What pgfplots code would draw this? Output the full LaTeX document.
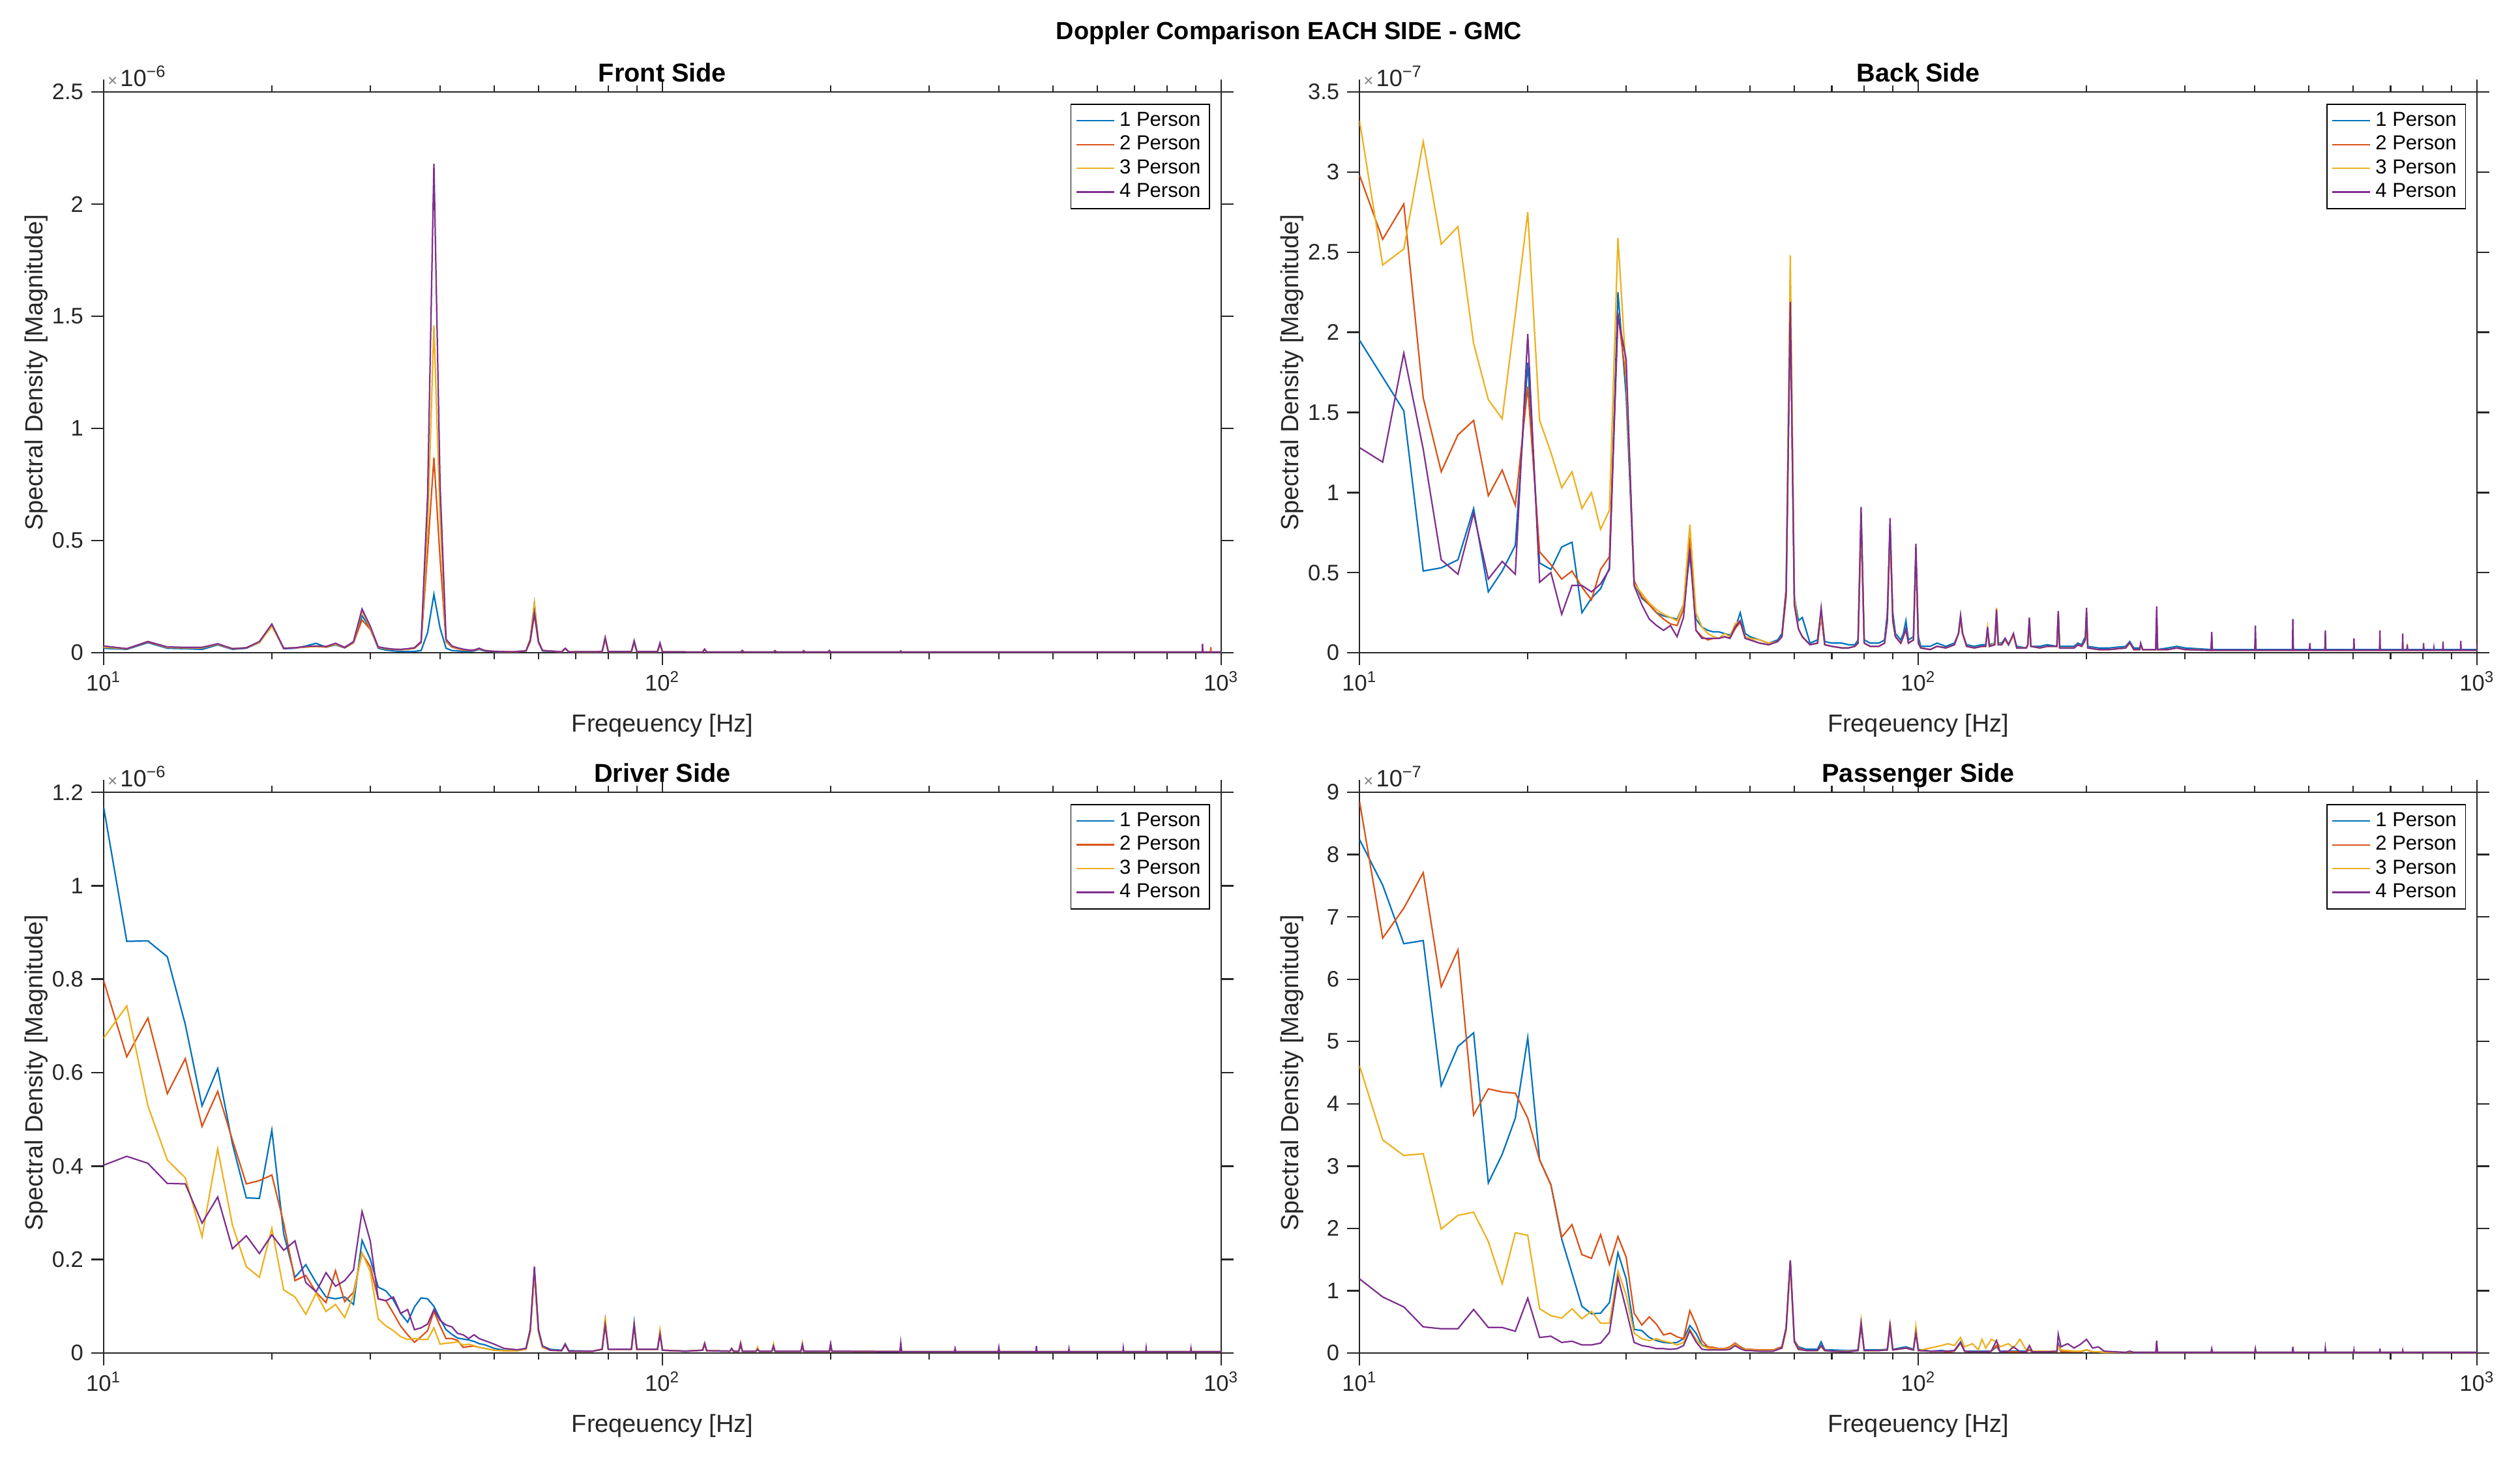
\documentclass[border=0pt]{standalone}
\usepackage{fontspec}
\setmainfont{Liberation Sans}
\usepackage{pgfplots}
\usepackage{pgfplotstable}
\pgfplotsset{compat=1.18}
\definecolor{mblue}{RGB}{0,114,189}
\definecolor{mred}{RGB}{217,83,25}
\definecolor{myellow}{RGB}{237,177,32}
\definecolor{mpurple}{RGB}{126,47,142}
\definecolor{axgray}{RGB}{38,38,38}

\pgfplotstableread{
f a b c d
10 0.020 0.028 0.025 0.030
11 0.015 0.018 0.017 0.018
12 0.045 0.048 0.050 0.050
13 0.020 0.024 0.024 0.026
14 0.018 0.022 0.022 0.024
15 0.015 0.022 0.022 0.024
16 0.035 0.038 0.038 0.040
17 0.015 0.018 0.017 0.018
18 0.020 0.022 0.022 0.022
19 0.045 0.048 0.045 0.050
20 0.125 0.120 0.118 0.128
21 0.018 0.020 0.020 0.020
22 0.020 0.022 0.022 0.022
23 0.030 0.025 0.026 0.028
24 0.042 0.028 0.028 0.030
25 0.025 0.025 0.028 0.028
26 0.035 0.038 0.038 0.042
27 0.022 0.022 0.025 0.024
28 0.045 0.045 0.048 0.050
29 0.165 0.146 0.185 0.195
30 0.110 0.105 0.112 0.118
31 0.020 0.025 0.024 0.026
32 0.012 0.018 0.018 0.020
33 0.008 0.015 0.015 0.016
34 0.006 0.014 0.014 0.015
35 0.005 0.015 0.016 0.018
36 0.006 0.020 0.022 0.022
37 0.010 0.045 0.050 0.050
38 0.090 0.450 0.550 0.700
39 0.260 0.870 1.460 2.180
40 0.110 0.420 0.600 0.750
41 0.020 0.050 0.055 0.060
42 0.010 0.025 0.028 0.030
43 0.008 0.018 0.020 0.022
44 0.006 0.012 0.014 0.016
45 0.005 0.010 0.012 0.012
46 0.008 0.010 0.012 0.012
47 0.015 0.018 0.018 0.020
48 0.008 0.010 0.010 0.010
50 0.005 0.006 0.006 0.006
54 0.004 0.004 0.004 0.004
57 0.008 0.008 0.008 0.008
58 0.060 0.050 0.060 0.055
59 0.220 0.170 0.220 0.180
60 0.050 0.045 0.050 0.050
61 0.008 0.010 0.010 0.010
66 0.004 0.004 0.004 0.004
67 0.018 0.018 0.018 0.020
68 0.004 0.004 0.004 0.004
78 0.005 0.005 0.005 0.005
79 0.060 0.060 0.065 0.068
80 0.005 0.005 0.005 0.005
88 0.005 0.005 0.005 0.005
89 0.045 0.050 0.050 0.053
90 0.005 0.005 0.005 0.005
98 0.005 0.005 0.005 0.005
99 0.040 0.040 0.040 0.043
100 0.004 0.004 0.004 0.004
118 0.003 0.003 0.003 0.003
119 0.015 0.015 0.015 0.016
120 0.003 0.003 0.003 0.003
138 0.003 0.003 0.003 0.003
139 0.008 0.008 0.008 0.010
140 0.003 0.003 0.003 0.003
158 0.003 0.003 0.003 0.003
159 0.008 0.008 0.008 0.009
160 0.003 0.003 0.003 0.003
178 0.003 0.003 0.003 0.003
179 0.008 0.008 0.008 0.009
180 0.003 0.003 0.003 0.003
198 0.003 0.003 0.003 0.003
199 0.008 0.008 0.008 0.010
200 0.003 0.003 0.003 0.003
266 0.003 0.003 0.003 0.003
267 0.006 0.006 0.006 0.008
268 0.003 0.003 0.003 0.003
925 0.003 0.003 0.003 0.003
926 0.003 0.004 0.004 0.040
927 0.003 0.003 0.003 0.003
957 0.003 0.003 0.003 0.003
958 0.003 0.025 0.004 0.003
959 0.003 0.003 0.003 0.003
1000 0.003 0.003 0.003 0.003
}\tfront

\pgfplotstableread{
f a b c d
10 1.95 2.98 3.32 1.28
11 1.72 2.58 2.42 1.19
12 1.51 2.80 2.52 1.87
13 0.51 1.59 3.19 1.27
14 0.53 1.13 2.55 0.58
15 0.58 1.36 2.66 0.49
16 0.90 1.45 1.93 0.87
17 0.38 0.98 1.58 0.46
18 0.51 1.14 1.46 0.57
19 0.67 0.92 2.11 0.49
20 1.81 1.66 2.75 1.99
21 0.56 0.63 1.45 0.44
22 0.52 0.55 1.25 0.50
23 0.66 0.46 1.03 0.24
24 0.69 0.51 1.13 0.42
25 0.25 0.41 0.90 0.42
26 0.34 0.33 1.00 0.38
27 0.40 0.52 0.77 0.43
28 0.53 0.60 0.89 0.52
29 2.25 2.12 2.59 2.10
30 1.60 1.70 1.75 1.83
31 0.44 0.45 0.43 0.42
32 0.34 0.35 0.37 0.30
33 0.30 0.30 0.31 0.21
34 0.25 0.25 0.27 0.17
35 0.23 0.21 0.24 0.14
36 0.22 0.18 0.22 0.17
37 0.21 0.17 0.20 0.10
38 0.30 0.27 0.30 0.22
39 0.61 0.72 0.80 0.65
40 0.21 0.14 0.25 0.14
41 0.16 0.10 0.16 0.09
42 0.14 0.08 0.12 0.09
43 0.13 0.09 0.10 0.09
44 0.13 0.09 0.09 0.09
45 0.12 0.10 0.12 0.10
46 0.11 0.09 0.10 0.09
47 0.15 0.15 0.18 0.16
48 0.25 0.19 0.20 0.20
49 0.12 0.09 0.10 0.09
50 0.10 0.08 0.09 0.08
52 0.08 0.06 0.08 0.06
54 0.06 0.05 0.06 0.05
56 0.08 0.07 0.07 0.07
57 0.12 0.10 0.10 0.10
58 0.40 0.35 0.40 0.38
59 2.18 2.18 2.48 2.19
60 0.35 0.30 0.35 0.30
61 0.20 0.15 0.15 0.15
62 0.22 0.10 0.10 0.10
64 0.06 0.05 0.05 0.05
66 0.08 0.06 0.06 0.06
67 0.26 0.22 0.24 0.28
68 0.07 0.05 0.05 0.05
70 0.06 0.04 0.04 0.04
73 0.06 0.03 0.03 0.03
75 0.05 0.03 0.03 0.03
77 0.05 0.04 0.04 0.04
78 0.08 0.06 0.06 0.06
79 0.85 0.80 0.85 0.91
80 0.08 0.06 0.06 0.06
82 0.06 0.04 0.04 0.04
85 0.06 0.04 0.04 0.04
87 0.08 0.06 0.06 0.06
88 0.25 0.20 0.20 0.20
89 0.80 0.75 0.78 0.84
90 0.25 0.20 0.20 0.20
91 0.12 0.10 0.10 0.10
93 0.08 0.06 0.06 0.06
94 0.12 0.10 0.10 0.10
95 0.20 0.14 0.15 0.15
96 0.08 0.06 0.06 0.06
98 0.10 0.08 0.08 0.08
99 0.60 0.62 0.63 0.68
100 0.10 0.06 0.06 0.06
101 0.04 0.03 0.03 0.03
105 0.04 0.02 0.02 0.02
108 0.06 0.04 0.04 0.04
112 0.04 0.03 0.03 0.03
116 0.06 0.05 0.05 0.05
118 0.12 0.12 0.12 0.12
119 0.23 0.21 0.22 0.23
120 0.12 0.12 0.12 0.12
122 0.05 0.04 0.04 0.04
126 0.04 0.03 0.03 0.03
130 0.05 0.04 0.04 0.04
132 0.05 0.04 0.04 0.04
133 0.14 0.15 0.15 0.16
134 0.05 0.04 0.04 0.04
137 0.06 0.05 0.06 0.05
138 0.22 0.25 0.28 0.27
139 0.06 0.05 0.06 0.05
141 0.06 0.05 0.05 0.05
143 0.09 0.08 0.08 0.09
145 0.05 0.05 0.05 0.05
148 0.11 0.11 0.11 0.12
150 0.04 0.03 0.03 0.03
156 0.03 0.03 0.03 0.03
157 0.05 0.05 0.05 0.05
158 0.20 0.20 0.20 0.22
159 0.04 0.04 0.04 0.04
165 0.04 0.03 0.03 0.03
170 0.05 0.04 0.04 0.04
177 0.04 0.04 0.04 0.04
178 0.24 0.24 0.24 0.26
179 0.04 0.03 0.03 0.03
190 0.04 0.03 0.03 0.03
193 0.06 0.05 0.05 0.05
196 0.05 0.04 0.04 0.04
199 0.10 0.08 0.08 0.08
200 0.20 0.24 0.26 0.28
201 0.04 0.03 0.03 0.03
210 0.03 0.02 0.02 0.02
220 0.03 0.02 0.02 0.02
235 0.04 0.03 0.03 0.03
239 0.07 0.06 0.06 0.065
243 0.03 0.02 0.02 0.02
249 0.03 0.02 0.02 0.02
250 0.05 0.04 0.04 0.06
252 0.02 0.02 0.02 0.02
266 0.02 0.02 0.02 0.02
267 0.20 0.22 0.24 0.29
268 0.02 0.02 0.02 0.02
280 0.03 0.02 0.02 0.02
290 0.04 0.03 0.03 0.03
300 0.03 0.02 0.02 0.02
334 0.02 0.015 0.015 0.015
335 0.06 0.07 0.08 0.13
336 0.02 0.015 0.015 0.015
400 0.02 0.015 0.015 0.015
401 0.06 0.06 0.06 0.17
402 0.02 0.015 0.015 0.015
467 0.02 0.015 0.015 0.015
468 0.06 0.06 0.06 0.21
469 0.02 0.015 0.015 0.015
501 0.02 0.015 0.015 0.015
502 0.03 0.03 0.03 0.06
503 0.02 0.015 0.015 0.015
534 0.02 0.015 0.015 0.015
535 0.05 0.05 0.05 0.14
536 0.02 0.015 0.015 0.015
601 0.02 0.015 0.015 0.015
602 0.04 0.04 0.04 0.09
603 0.02 0.015 0.015 0.015
669 0.02 0.015 0.015 0.015
670 0.05 0.05 0.05 0.14
671 0.02 0.015 0.015 0.015
735 0.02 0.015 0.015 0.015
736 0.04 0.04 0.04 0.12
737 0.02 0.015 0.015 0.015
749 0.02 0.015 0.015 0.015
750 0.03 0.03 0.03 0.05
751 0.02 0.015 0.015 0.015
801 0.02 0.015 0.015 0.015
802 0.03 0.03 0.03 0.06
803 0.02 0.015 0.015 0.015
836 0.02 0.015 0.015 0.015
837 0.02 0.02 0.02 0.03
838 0.02 0.015 0.015 0.015
868 0.02 0.015 0.015 0.015
869 0.03 0.03 0.03 0.07
870 0.02 0.015 0.015 0.015
934 0.02 0.015 0.015 0.015
935 0.03 0.03 0.03 0.075
936 0.02 0.015 0.015 0.015
999 0.02 0.015 0.015 0.015
1000 0.02 0.02 0.02 0.05
}\tback

\pgfplotstableread{
f a b c d
10 1.168 0.797 0.674 0.402
11 0.881 0.634 0.743 0.421
12 0.882 0.717 0.529 0.406
13 0.848 0.555 0.413 0.363
14 0.703 0.630 0.375 0.362
15 0.529 0.485 0.249 0.278
16 0.609 0.560 0.437 0.334
17 0.448 0.456 0.274 0.223
18 0.332 0.362 0.185 0.251
19 0.331 0.369 0.162 0.213
20 0.477 0.381 0.267 0.253
21 0.255 0.278 0.135 0.220
22 0.162 0.155 0.120 0.240
23 0.189 0.166 0.083 0.151
24 0.151 0.130 0.128 0.131
25 0.120 0.108 0.089 0.172
26 0.116 0.176 0.104 0.143
27 0.120 0.110 0.076 0.155
28 0.104 0.130 0.124 0.178
29 0.241 0.213 0.215 0.303
30 0.201 0.185 0.174 0.240
31 0.141 0.116 0.073 0.116
32 0.133 0.112 0.058 0.112
33 0.114 0.085 0.048 0.120
34 0.085 0.058 0.035 0.085
35 0.066 0.039 0.029 0.093
36 0.099 0.023 0.031 0.050
37 0.118 0.035 0.029 0.054
38 0.116 0.048 0.029 0.062
39 0.100 0.089 0.054 0.093
40 0.073 0.058 0.019 0.070
41 0.050 0.031 0.021 0.060
42 0.040 0.031 0.022 0.056
43 0.032 0.027 0.024 0.042
44 0.030 0.012 0.017 0.039
45 0.028 0.014 0.019 0.031
46 0.025 0.015 0.016 0.039
47 0.020 0.012 0.012 0.031
48 0.018 0.010 0.010 0.027
49 0.014 0.008 0.008 0.023
50 0.010 0.006 0.006 0.019
52 0.006 0.005 0.005 0.010
55 0.006 0.005 0.005 0.007
57 0.010 0.008 0.008 0.010
58 0.050 0.045 0.045 0.050
59 0.175 0.170 0.170 0.185
60 0.050 0.045 0.045 0.050
61 0.015 0.012 0.012 0.015
63 0.008 0.006 0.006 0.006
66 0.006 0.005 0.005 0.005
67 0.020 0.018 0.018 0.018
68 0.005 0.004 0.004 0.004
75 0.004 0.004 0.004 0.004
78 0.008 0.008 0.008 0.008
79 0.065 0.070 0.076 0.060
80 0.008 0.008 0.008 0.008
88 0.008 0.008 0.008 0.008
89 0.065 0.058 0.060 0.060
90 0.008 0.008 0.008 0.008
98 0.008 0.008 0.008 0.008
99 0.045 0.045 0.049 0.040
100 0.006 0.006 0.006 0.006
110 0.004 0.004 0.004 0.004
118 0.006 0.006 0.006 0.006
119 0.020 0.021 0.018 0.020
120 0.005 0.005 0.005 0.005
132 0.004 0.004 0.004 0.004
133 0.008 0.008 0.008 0.010
134 0.004 0.004 0.004 0.004
137 0.004 0.004 0.004 0.004
138 0.018 0.022 0.020 0.020
139 0.004 0.004 0.004 0.004
147 0.004 0.004 0.004 0.004
148 0.008 0.010 0.013 0.008
149 0.004 0.004 0.004 0.004
157 0.004 0.004 0.004 0.004
158 0.015 0.015 0.019 0.015
159 0.004 0.004 0.004 0.004
177 0.004 0.004 0.004 0.004
178 0.018 0.018 0.021 0.018
179 0.004 0.004 0.004 0.004
199 0.004 0.004 0.004 0.004
200 0.018 0.018 0.018 0.020
201 0.004 0.004 0.004 0.004
266 0.003 0.003 0.003 0.003
267 0.012 0.012 0.012 0.022
268 0.003 0.003 0.003 0.003
333 0.003 0.003 0.003 0.003
334 0.005 0.005 0.005 0.010
335 0.003 0.003 0.003 0.003
399 0.003 0.003 0.003 0.003
400 0.006 0.006 0.006 0.012
401 0.003 0.003 0.003 0.003
466 0.003 0.003 0.003 0.003
467 0.006 0.006 0.006 0.015
468 0.003 0.003 0.003 0.003
533 0.003 0.003 0.003 0.003
534 0.004 0.004 0.004 0.009
535 0.003 0.003 0.003 0.003
667 0.003 0.003 0.003 0.003
668 0.004 0.004 0.004 0.010
669 0.003 0.003 0.003 0.003
733 0.003 0.003 0.003 0.003
734 0.004 0.004 0.004 0.010
735 0.003 0.003 0.003 0.003
882 0.003 0.003 0.003 0.003
883 0.004 0.012 0.004 0.008
884 0.003 0.003 0.003 0.003
1000 0.003 0.003 0.003 0.003
}\tdriver

\pgfplotstableread{
f a b c d
10 8.24 8.85 4.61 1.19
11 7.51 6.66 3.42 0.90
12 6.57 7.14 3.17 0.74
13 6.62 7.71 3.20 0.42
14 4.29 5.88 1.99 0.39
15 4.92 6.47 2.21 0.39
16 5.14 3.82 2.26 0.70
17 2.73 4.24 1.79 0.41
18 3.19 4.19 1.11 0.41
19 3.77 4.17 1.93 0.35
20 5.06 3.77 1.89 0.88
21 3.10 3.10 0.71 0.25
22 2.70 2.70 0.60 0.27
23 1.83 1.86 0.56 0.17
24 1.28 2.06 0.71 0.19
25 0.75 1.58 0.55 0.13
26 0.63 1.52 0.67 0.13
27 0.64 1.90 0.48 0.16
28 0.81 1.42 0.48 0.33
29 1.61 1.87 1.32 1.22
30 1.19 1.54 0.93 0.70
31 0.38 0.64 0.32 0.17
32 0.36 0.45 0.23 0.12
33 0.25 0.58 0.20 0.10
34 0.20 0.46 0.23 0.07
35 0.17 0.29 0.19 0.07
36 0.16 0.32 0.17 0.06
37 0.17 0.26 0.13 0.07
38 0.23 0.23 0.17 0.12
39 0.44 0.68 0.38 0.36
40 0.32 0.46 0.22 0.18
41 0.13 0.20 0.12 0.06
42 0.10 0.10 0.08 0.05
43 0.08 0.09 0.07 0.05
44 0.07 0.07 0.06 0.05
45 0.07 0.07 0.06 0.05
46 0.09 0.10 0.08 0.06
47 0.15 0.16 0.14 0.12
48 0.10 0.10 0.08 0.07
49 0.06 0.06 0.05 0.04
50 0.05 0.06 0.05 0.04
52 0.04 0.05 0.04 0.03
55 0.04 0.05 0.04 0.03
57 0.10 0.10 0.08 0.08
58 0.40 0.40 0.35 0.40
59 1.45 1.48 1.40 1.49
60 0.20 0.20 0.18 0.18
61 0.10 0.08 0.06 0.06
63 0.06 0.04 0.04 0.04
66 0.06 0.04 0.04 0.04
67 0.18 0.12 0.10 0.12
68 0.05 0.04 0.04 0.04
70 0.05 0.03 0.03 0.03
75 0.04 0.03 0.03 0.02
78 0.05 0.04 0.04 0.04
79 0.42 0.45 0.52 0.48
80 0.05 0.04 0.04 0.04
85 0.05 0.04 0.04 0.04
88 0.06 0.05 0.05 0.05
89 0.40 0.42 0.50 0.45
90 0.06 0.05 0.05 0.05
95 0.10 0.08 0.08 0.08
98 0.06 0.05 0.05 0.05
99 0.35 0.38 0.42 0.32
100 0.06 0.04 0.04 0.04
105 0.03 0.03 0.08 0.03
110 0.04 0.03 0.12 0.03
113 0.03 0.02 0.15 0.03
116 0.04 0.03 0.12 0.04
119 0.18 0.16 0.25 0.17
121 0.03 0.03 0.10 0.03
125 0.03 0.02 0.15 0.02
128 0.03 0.02 0.05 0.02
130 0.03 0.02 0.22 0.02
132 0.03 0.02 0.08 0.02
135 0.03 0.03 0.22 0.03
138 0.10 0.12 0.18 0.20
140 0.03 0.02 0.10 0.02
145 0.03 0.02 0.15 0.03
148 0.03 0.02 0.08 0.10
152 0.03 0.02 0.22 0.02
156 0.03 0.02 0.05 0.02
158 0.05 0.05 0.10 0.12
160 0.02 0.02 0.03 0.02
170 0.02 0.02 0.03 0.02
177 0.02 0.02 0.03 0.03
178 0.15 0.12 0.10 0.30
180 0.03 0.02 0.05 0.10
185 0.02 0.02 0.04 0.15
190 0.02 0.02 0.03 0.08
195 0.02 0.02 0.03 0.14
200 0.05 0.05 0.05 0.22
205 0.02 0.02 0.02 0.08
210 0.02 0.02 0.02 0.10
215 0.01 0.01 0.01 0.03
235 0.01 0.01 0.01 0.01
239 0.02 0.02 0.02 0.03
243 0.01 0.01 0.01 0.01
266 0.01 0.01 0.01 0.01
267 0.05 0.05 0.05 0.20
268 0.01 0.01 0.01 0.01
334 0.01 0.01 0.01 0.01
335 0.02 0.02 0.02 0.07
336 0.01 0.01 0.01 0.01
400 0.01 0.01 0.01 0.01
401 0.02 0.02 0.02 0.07
402 0.01 0.01 0.01 0.01
467 0.01 0.01 0.01 0.01
468 0.02 0.02 0.02 0.10
469 0.01 0.01 0.01 0.01
534 0.01 0.01 0.01 0.01
535 0.02 0.02 0.02 0.08
536 0.01 0.01 0.01 0.01
601 0.01 0.01 0.01 0.01
602 0.02 0.02 0.02 0.05
603 0.01 0.01 0.01 0.01
669 0.01 0.01 0.01 0.01
670 0.02 0.02 0.02 0.07
671 0.01 0.01 0.01 0.01
735 0.01 0.01 0.01 0.01
736 0.02 0.02 0.02 0.04
737 0.01 0.01 0.01 0.01
1000 0.01 0.01 0.01 0.01
}\tpass

\pgfplotsset{
  every axis/.append style={
    tick align=outside, major tick length=5.5pt, minor tick length=2.9pt,
    axis line style={color=axgray, line width=0.7pt},
    tick style={color=axgray, line width=0.7pt},
    tick label style={font=\fontsize{10}{12}\selectfont, color=axgray},
    xticklabel style={yshift=0.6pt},
    label style={font=\fontsize{11}{13}\selectfont, color=axgray},
    xlabel style={at={(axis description cs:0.5,-0.130)}, anchor=center},
    ylabel style={at={(axis description cs:-0.0601,0.5)}, anchor=center},
    legend style={at={(axis description cs:0.9901,0.979)}, anchor=north east,
      draw=black, line width=0.5pt, font=\fontsize{9}{11}\selectfont,
      inner xsep=2pt, inner ysep=1.5pt, row sep=-1.2pt, fill=white, text=black},
    legend cell align=left,
  },
  every axis title/.style={at={(0.5,1)}, anchor=base, yshift=4.5pt,
    font=\bfseries\fontsize{11.5}{13}\selectfont},
  every axis plot/.append style={line width=0.65pt},
  legend image code/.code={\draw[#1, line width=0.65pt] (0pt,0pt) -- (17pt,0pt);},
  cycle list={{mblue},{mred},{myellow},{mpurple}},
  /pgf/number format/assume math mode=true,
}
\newcommand{\expo}[2]{\node[anchor=base west, font=\fontsize{10.5}{12}\selectfont, text=axgray, inner sep=0pt] at ([xshift=1.6pt,yshift=2.6pt]#1.north west) {{\fontsize{7.5}{8}\selectfont\color{gray}×}\hspace{1.2pt}10\textsuperscript{−#2}};}

\begin{document}
\begin{tikzpicture}
\useasboundingbox (0,0) rectangle (1120.85pt,-648.15pt);
\node[font=\bfseries\fontsize{11}{13}\selectfont, anchor=base] at (573.3pt,-17.4pt) {Doppler Comparison EACH SIDE - GMC};

\begin{axis}[name=ax1, xmode=log, scale only axis, width=497.06pt, height=249.4pt,
  xmin=10, xmax=1000, ymin=0,
  xtick={10,100,1000},
  xticklabels={10\textsuperscript{1},10\textsuperscript{2},10\textsuperscript{3}},
  minor xtick={20,30,40,50,60,70,80,90,200,300,400,500,600,700,800,900},
  scaled y ticks=false, yticklabel style={/pgf/number format/fixed},
  xlabel={Freqeuency [Hz]}, ylabel={Spectral Density [Magnitude]},
  at={(46.1pt,-290.3pt)}, anchor=south west,
  title={Front Side}, ymax=2.5, ytick={0,0.5,1,1.5,2,2.5}]
\addplot table[x=f,y=a]{\tfront};
\addplot table[x=f,y=b]{\tfront};
\addplot table[x=f,y=c]{\tfront};
\addplot table[x=f,y=d]{\tfront};
\legend{1 Person,2 Person,3 Person,4 Person}
\end{axis}
\expo{ax1}{6}

\begin{axis}[name=ax2, xmode=log, scale only axis, width=497.06pt, height=249.4pt,
  xmin=10, xmax=1000, ymin=0,
  xtick={10,100,1000},
  xticklabels={10\textsuperscript{1},10\textsuperscript{2},10\textsuperscript{3}},
  minor xtick={20,30,40,50,60,70,80,90,200,300,400,500,600,700,800,900},
  scaled y ticks=false, yticklabel style={/pgf/number format/fixed},
  xlabel={Freqeuency [Hz]}, ylabel={Spectral Density [Magnitude]},
  at={(604.7pt,-290.3pt)}, anchor=south west,
  title={Back Side}, ymax=3.5, ytick={0,0.5,1,1.5,2,2.5,3,3.5}]
\addplot table[x=f,y=a]{\tback};
\addplot table[x=f,y=b]{\tback};
\addplot table[x=f,y=c]{\tback};
\addplot table[x=f,y=d]{\tback};
\legend{1 Person,2 Person,3 Person,4 Person}
\end{axis}
\expo{ax2}{7}

\begin{axis}[name=ax3, xmode=log, scale only axis, width=497.06pt, height=249.4pt,
  xmin=10, xmax=1000, ymin=0,
  xtick={10,100,1000},
  xticklabels={10\textsuperscript{1},10\textsuperscript{2},10\textsuperscript{3}},
  minor xtick={20,30,40,50,60,70,80,90,200,300,400,500,600,700,800,900},
  scaled y ticks=false, yticklabel style={/pgf/number format/fixed},
  xlabel={Freqeuency [Hz]}, ylabel={Spectral Density [Magnitude]},
  at={(46.1pt,-601.75pt)}, anchor=south west,
  title={Driver Side}, ymax=1.2, ytick={0,0.2,0.4,0.6,0.8,1,1.2}]
\addplot table[x=f,y=a]{\tdriver};
\addplot table[x=f,y=b]{\tdriver};
\addplot table[x=f,y=c]{\tdriver};
\addplot table[x=f,y=d]{\tdriver};
\legend{1 Person,2 Person,3 Person,4 Person}
\end{axis}
\expo{ax3}{6}

\begin{axis}[name=ax4, xmode=log, scale only axis, width=497.06pt, height=249.4pt,
  xmin=10, xmax=1000, ymin=0,
  xtick={10,100,1000},
  xticklabels={10\textsuperscript{1},10\textsuperscript{2},10\textsuperscript{3}},
  minor xtick={20,30,40,50,60,70,80,90,200,300,400,500,600,700,800,900},
  scaled y ticks=false, yticklabel style={/pgf/number format/fixed},
  xlabel={Freqeuency [Hz]}, ylabel={Spectral Density [Magnitude]},
  at={(604.7pt,-601.75pt)}, anchor=south west,
  title={Passenger Side}, ymax=9, ytick={0,1,2,3,4,5,6,7,8,9}]
\addplot table[x=f,y=a]{\tpass};
\addplot table[x=f,y=b]{\tpass};
\addplot table[x=f,y=c]{\tpass};
\addplot table[x=f,y=d]{\tpass};
\legend{1 Person,2 Person,3 Person,4 Person}
\end{axis}
\expo{ax4}{7}
\end{tikzpicture}
\end{document}
